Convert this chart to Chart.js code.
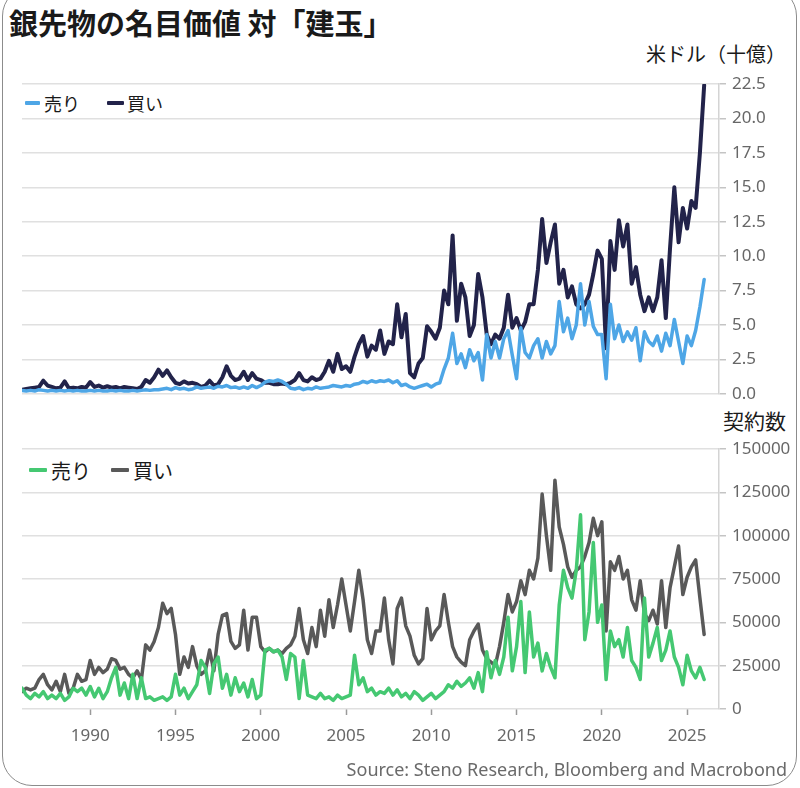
<!DOCTYPE html>
<html><head><meta charset="utf-8">
<script src="https://cdn.jsdelivr.net/npm/chart.js@4.4.1/dist/chart.umd.min.js"></script>
<style>
html,body{margin:0;padding:0;background:#fff;}
body{width:800px;height:788px;position:relative;overflow:hidden;font-family:"Noto Sans CJK JP","Noto Sans",sans-serif;}
.frame{position:absolute;left:2px;top:-14px;width:795px;height:800px;border:1.5px solid #8c8c8c;border-radius:30px;box-sizing:border-box;}
.title{position:absolute;left:9px;top:3px;font-size:29px;font-weight:bold;color:#1a1a1a;line-height:38px;white-space:nowrap;}
.unit{position:absolute;font-size:20px;color:#1a1a1a;white-space:nowrap;line-height:26px;}
.legend{position:absolute;white-space:nowrap;color:#1a1a1a;display:flex;align-items:center;}
.legend .mk{display:inline-block;height:4px;border-radius:1px;}
.source{position:absolute;right:13px;top:757px;font-family:"Noto Sans",sans-serif;font-size:18px;color:#6a6a6a;white-space:nowrap;line-height:24px;}
canvas{position:absolute;left:0;}
</style>
</head><body>
<div class="frame"></div>
<div class="title">銀先物の名目価値 対「建玉」</div>
<div class="unit" style="right:14px;top:41px;">米ドル（十億）</div>
<div class="unit" style="left:723px;top:407px;font-size:21px;">契約数</div>

<div class="legend" style="left:25px;top:91px;height:24px;font-size:18px;">
  <span class="mk" style="width:15px;background:#4ea6e6;margin-right:4px;"></span><span>売り</span>
  <span class="mk" style="width:17px;background:#22234a;margin-left:27px;margin-right:3px;"></span><span>買い</span>
</div>
<div class="legend" style="left:29px;top:457px;height:26px;font-size:20px;">
  <span class="mk" style="width:18px;background:#45c872;margin-right:4px;"></span><span>売り</span>
  <span class="mk" style="width:18px;background:#595959;margin-left:20px;margin-right:4px;"></span><span>買い</span>
</div>

<canvas id="top" width="800" height="369" style="top:41px;width:800px;height:369px;"></canvas>
<canvas id="bot" width="800" height="370" style="top:401px;width:800px;height:370px;"></canvas>
<div class="source">Source: Steno Research, Bloomberg and Macrobond</div>

<script>
// Quarterly observations, first value = 1986 Q1, last value = 2026 Q1
const startYear = 1986;
const perYear = 4;
const xTickYears = [1990, 1995, 2000, 2005, 2010, 2015, 2020, 2025];
const topTicks = [0, 2.5, 5, 7.5, 10, 12.5, 15, 17.5, 20, 22.5];
const botTicks = [0, 25000, 50000, 75000, 100000, 125000, 150000];

// 名目価値 (USD bn) — 売り
const notionalSell = [
  0.25,0.2,0.25,0.2,   0.3,0.25,0.2,0.25,   0.2,0.25,0.2,0.25,   0.2,0.25,0.2,0.2,
  0.25,0.2,0.25,0.2,   0.2,0.25,0.2,0.25,   0.2,0.2,0.25,0.2,    0.25,0.3,0.25,0.3,
  0.3,0.35,0.4,0.3,    0.45,0.35,0.4,0.3,   0.35,0.5,0.4,0.45,   0.5,0.4,0.55,0.5,
  0.6,0.45,0.5,0.4,    0.5,0.4,0.6,0.45,    0.6,0.85,0.95,0.9,   1.0,0.9,0.7,0.4,
  0.35,0.45,0.3,0.4,   0.35,0.5,0.4,0.45,   0.5,0.6,0.55,0.5,    0.6,0.55,0.7,0.75,
  0.9,0.8,0.95,0.85,   0.95,0.9,1.0,0.8,    0.95,0.6,0.7,0.5,    0.4,0.5,0.6,0.7,
  0.5,0.7,0.8,1.8,     2.6,4.4,2.2,2.9,     1.9,3.2,2.4,3.0,     1.0,4.3,2.6,3.8,
  2.6,4.0,4.6,2.8,     1.1,4.8,3.0,2.6,     3.5,4.0,2.6,3.8,     2.9,3.5,6.7,4.5,
  5.5,4.0,5.0,8.0,     5.0,6.7,4.9,4.3,     4.3,1.1,6.5,4.0,     5.0,3.8,4.5,3.9,
  4.8,2.4,4.5,3.8,     3.5,4.2,3.1,4.4,     3.5,5.4,3.8,2.2,     4.2,3.5,4.6,6.3,
  8.3
];
// 名目価値 (USD bn) — 買い
const notionalBuy = [
  0.3,0.35,0.4,0.45,   0.5,0.95,0.6,0.5,    0.4,0.45,0.9,0.4,    0.45,0.4,0.5,0.45,
  0.85,0.5,0.6,0.45,   0.55,0.45,0.5,0.4,   0.5,0.45,0.4,0.35,   0.5,1.0,0.8,1.2,
  1.75,1.3,1.7,1.2,    0.8,0.7,0.9,0.75,    0.8,0.7,0.5,0.6,     0.95,0.6,0.7,1.2,
  2.0,1.3,1.0,1.1,     1.6,1.0,1.5,1.1,     1.0,0.8,0.8,0.7,     0.7,0.75,0.7,0.8,
  1.0,1.5,1.0,0.9,     1.2,1.0,1.1,1.6,     2.4,1.6,2.9,1.8,     2.0,1.6,2.7,3.6,
  4.2,2.7,3.5,3.2,     4.6,2.9,3.8,3.6,     6.5,4.1,5.8,1.5,     1.2,2.2,2.6,4.9,
  4.5,4.0,4.8,7.5,     6.5,11.5,5.3,8.0,    7.0,4.2,5.0,8.7,     7.0,4.3,3.6,4.3,
  4.0,4.8,7.2,4.8,     5.5,4.6,5.2,6.5,     6.5,9.0,12.7,9.5,    11.0,12.3,8.0,9.0,
  7.0,7.8,6.5,6.2,     6.5,7.2,8.7,10.4,    9.8,3.3,11.1,9.0,    12.6,10.7,12.3,8.0,
  9.2,7.2,6.0,7.0,     6.0,7.0,9.7,5.5,     10.6,15.0,11.0,13.5, 12.0,14.0,13.5,17.5,
  22.4
];
// 建玉 (contracts) — 売り
const contractsSell = [
  12000,8000,6000,9000,    7000,10000,6000,8000,    6000,9000,5000,7000,     12000,10000,12000,8000,
  13000,7000,12000,6000,   10000,18000,24000,8000,  15000,6000,20000,6000,   18000,6000,7000,5000,
  6000,7000,5000,7000,     20000,8000,12000,6000,   10000,14000,28000,24000, 9000,26000,30000,12000,
  20000,8000,18000,10000,  15000,7000,17000,6000,   8000,34000,35000,33000,  34000,30000,17000,32000,
  30000,6000,28000,8000,   7000,6000,9000,6000,     7000,5000,8000,6000,     7000,8000,31000,14000,
  18000,10000,12000,8000,  10000,9000,12000,8000,   11000,7000,9000,6000,    10000,8000,5000,7000,
  9000,6000,8000,10000,    14000,12000,16000,13000, 15000,18000,12000,21000, 10000,33000,18000,28000,
  20000,30000,53000,22000, 36000,62000,21000,56000, 30000,38000,22000,32000, 24000,18000,60000,80000,
  70000,64000,80000,112000,40000,56000,96000,50000, 60000,17000,45000,36000, 40000,30000,47000,28000,
  24000,17000,64000,30000, 38000,47000,28000,34000, 45000,30000,24000,14000, 31000,22000,18000,24000,
  17000
];
// 建玉 (contracts) — 買い
const contractsBuy = [
  10000,12000,11000,12000, 17000,20000,14000,11000, 16000,10000,20000,9000,  12000,20000,16000,17000,
  28000,20000,24000,21000, 23000,29000,28000,23000, 24000,20000,18000,22000, 17000,37000,34000,39000,
  47000,61000,55000,58000, 43000,20000,30000,24000, 36000,25000,20000,22000, 34000,22000,43000,54000,
  55000,39000,35000,37000, 57000,34000,53000,53000, 36000,33000,35000,33000, 34000,32000,35000,37000,
  42000,58000,40000,32000, 47000,36000,57000,42000, 63000,47000,60000,75000, 60000,45000,62000,80000,
  63000,40000,32000,45000, 45000,64000,40000,26000, 58000,64000,48000,42000, 31000,26000,29000,58000,
  40000,45000,48000,66000, 50000,36000,30000,27000, 25000,40000,45000,49000, 34000,29000,27000,25000,
  36000,50000,66000,56000, 62000,74000,66000,80000, 75000,87000,124000,100000, 80000,132000,105000,95000,
  82000,76000,80000,82000, 88000,96000,110000,100000, 108000,45000,85000,80000, 88000,75000,80000,63000,
  57000,74000,55000,51000, 57000,49000,74000,47000, 70000,82000,94000,66000, 76000,82000,86000,64000,
  43000
];

const toPoints = vals => vals.map((v, i) => ({ x: startYear + i / perYear, y: v }));

Chart.defaults.font.family = '"Noto Sans", sans-serif';
Chart.defaults.animation = false;

function lineDs(vals, color, width) {
  return { data: toPoints(vals), borderColor: color, borderWidth: width, pointRadius: 0,
           tension: 0, borderJoinStyle: 'round', borderCapStyle: 'round', fill: false };
}

function buildOptions(tickVals, fmt, showX, pad) {
  return {
    responsive: false, maintainAspectRatio: false,
    layout: { padding: pad },
    plugins: { legend: { display: false }, tooltip: { enabled: false } },
    scales: {
      x: {
        type: 'linear', min: 1986, max: 2026.87, display: showX,
        afterBuildTicks: s => { s.ticks = xTickYears.map(v => ({ value: v })); },
        afterFit: s => { if (showX) s.height = 40; },
        grid: { drawOnChartArea: false, drawTicks: true, tickLength: 6, tickColor: '#9a9a9a', tickWidth: 1.5 },
        border: { display: false },
        ticks: { color: '#676767', font: { size: 17 }, padding: 11, maxRotation: 0, autoSkip: false,
                 callback: v => String(v) }
      },
      y: {
        position: 'right', min: tickVals[0], max: tickVals[tickVals.length - 1],
        afterBuildTicks: s => { s.ticks = tickVals.map(v => ({ value: v })); },
        afterFit: s => { s.width = 81; },
        grid: { color: '#e0e0e0', lineWidth: 1.5, drawTicks: true, tickLength: 7, tickColor: '#c4c4c4' },
        border: { display: true, color: '#d4d4d4', width: 1.5 },
        ticks: { color: '#676767', font: { size: 17 }, padding: 6, callback: fmt }
      }
    }
  };
}

new Chart(document.getElementById('top'), {
  type: 'line',
  data: { datasets: [ lineDs(notionalSell, '#4ea6e6', 3.5), lineDs(notionalBuy, '#22234a', 4) ] },
  options: buildOptions(topTicks, v => v.toFixed(1), false, { left: 22, right: 0, top: 43, bottom: 12 })
});

new Chart(document.getElementById('bot'), {
  type: 'line',
  data: { datasets: [ lineDs(contractsSell, '#45c872', 3.5), lineDs(contractsBuy, '#595959', 3.5) ] },
  options: buildOptions(botTicks, v => String(v), true, { left: 22, right: 0, top: 48, bottom: 22 })
});
</script>
</body></html>
